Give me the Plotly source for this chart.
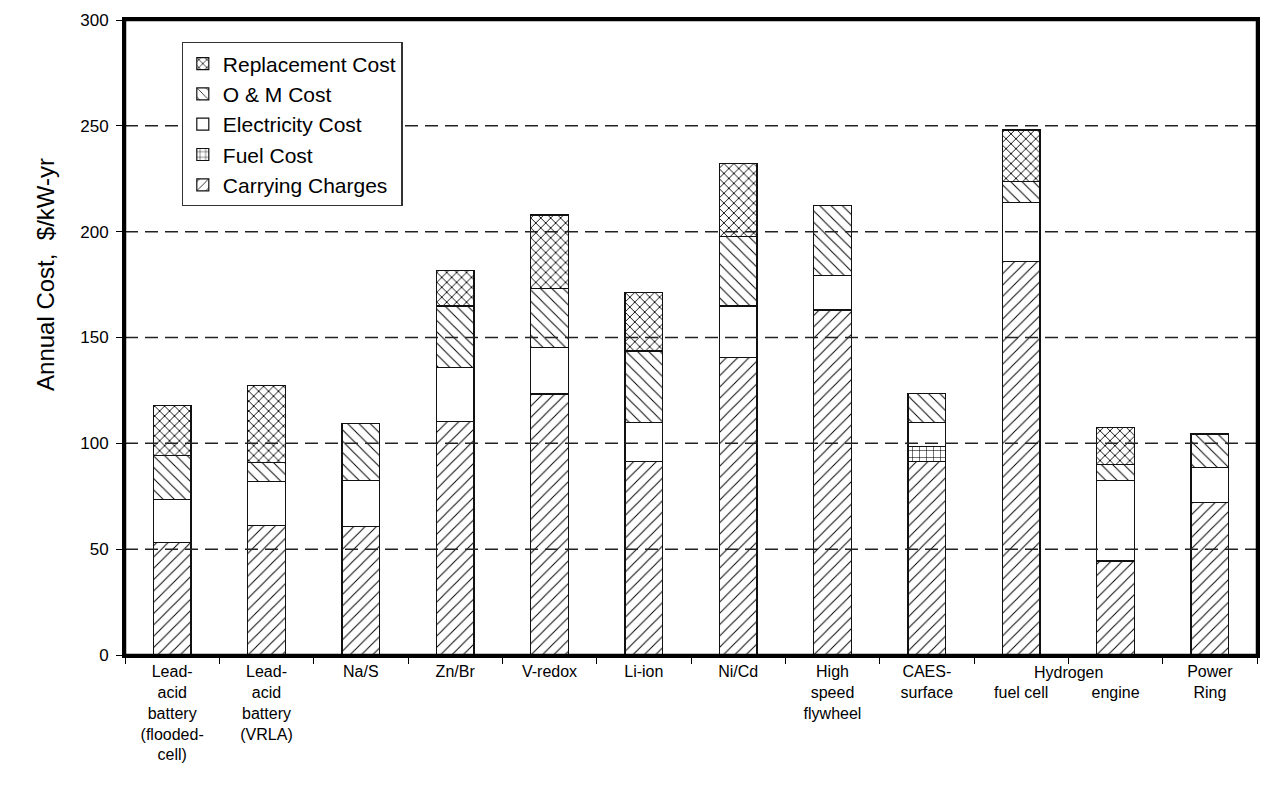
import plotly.graph_objects as go

categories = ["Lead-<br>acid<br>battery<br>(flooded-<br>cell)",
              "Lead-<br>acid<br>battery<br>(VRLA)",
              "Na/S", "Zn/Br", "V-redox", "Li-ion", "Ni/Cd",
              "High<br>speed<br>flywheel",
              "CAES-<br>surface",
              "<br>fuel cell", "<br>engine",
              "Power<br>Ring"]

carrying_charges = [53.0, 61.3, 60.8, 110.5, 123.3, 91.5, 140.5, 163.0, 91.6, 185.8, 44.4, 72.1]
fuel_cost        = [0, 0, 0, 0, 0, 0, 0, 0, 6.8, 0, 0, 0]
electricity_cost = [20.4, 20.6, 21.7, 25.4, 21.9, 18.4, 24.4, 16.2, 11.6, 28.0, 38.1, 16.4]
om_cost          = [20.7, 9.1, 26.9, 29.0, 28.0, 33.7, 32.7, 33.1, 13.4, 9.8, 7.4, 15.9]
replacement_cost = [23.7, 36.2, 0, 16.8, 34.7, 27.7, 34.5, 0, 0, 24.4, 17.7, 0]

series = [
    ("Carrying Charges", carrying_charges, "/", 8, 0.12),
    ("Fuel Cost", fuel_cost, "+", 7, 0.15),
    ("Electricity Cost", electricity_cost, "", 8, 0.2),
    ("O & M Cost", om_cost, "\\", 8, 0.12),
    ("Replacement Cost", replacement_cost, "x", 7, 0.24),
]

y_ticks = [0, 50, 100, 150, 200, 250, 300]

FONT = "Liberation Sans, Arial, sans-serif"

fig = go.Figure()
for name, vals, shape, psize, psol in series:
    fig.add_trace(go.Bar(
        name=name, x=categories, y=[v if v else None for v in vals], width=0.4,
        marker=dict(color="white",
                    line=dict(color="#111111", width=1.2),
                    pattern=dict(shape=shape, fgcolor="black", bgcolor="white",
                                 fgopacity=1, size=psize, solidity=psol,
                                 fillmode="overlay")),
    ))

# dashed reference lines drawn above bars
for t in y_ticks[1:-1]:
    fig.add_shape(type="line", xref="paper", yref="y", x0=0, x1=1, y0=t, y1=t,
                  line=dict(color="#222222", width=1.5, dash="13px,7px"), layer="above")

# plot frame
fig.add_shape(type="rect", xref="paper", yref="paper", x0=0, x1=1, y0=0, y1=1,
              line=dict(color="black", width=2.5), layer="above")

fig.add_annotation(text="Hydrogen", x=9.5, xref="x", y=0, yref="paper",
                   yanchor="top", yshift=-7, showarrow=False,
                   font=dict(family=FONT, size=16, color="black"))

fig.add_annotation(text="Annual Cost,  $/kW-yr", textangle=-90,
                   x=-0.0707, xref="paper", y=0.60, yref="paper",
                   xanchor="center", yanchor="middle", showarrow=False,
                   font=dict(family=FONT, size=24, color="black"))

fig.update_layout(
    barmode="stack",
    width=1263, height=783,
    margin=dict(l=117, r=14, t=12, b=136),
    paper_bgcolor="white", plot_bgcolor="white",
    font=dict(family=FONT, size=16, color="black"),
    showlegend=True,
    legend=dict(traceorder="reversed", x=0.05, y=0.965, xanchor="left", yanchor="top",
                bordercolor="#333333", borderwidth=1.2, bgcolor="white",
                font=dict(family=FONT, size=21), itemwidth=30, tracegroupgap=0),
    xaxis=dict(type="category", tickson="boundaries",
               showline=True, linecolor="black", linewidth=3, mirror=True,
               ticks="outside", ticklen=6, tickcolor="black", tickwidth=1,
               ticklabelstandoff=0,
               showgrid=False, tickangle=0, automargin=False),
    yaxis=dict(range=[0, 300], tickvals=y_ticks, showline=True, linecolor="black",
               linewidth=3, mirror=True, ticks="outside", ticklen=6, tickcolor="black",
               ticklabelstandoff=4,
               showgrid=False, zeroline=False, automargin=False,
               tickfont=dict(family=FONT, size=17)),
)

fig.write_html("out.html")
